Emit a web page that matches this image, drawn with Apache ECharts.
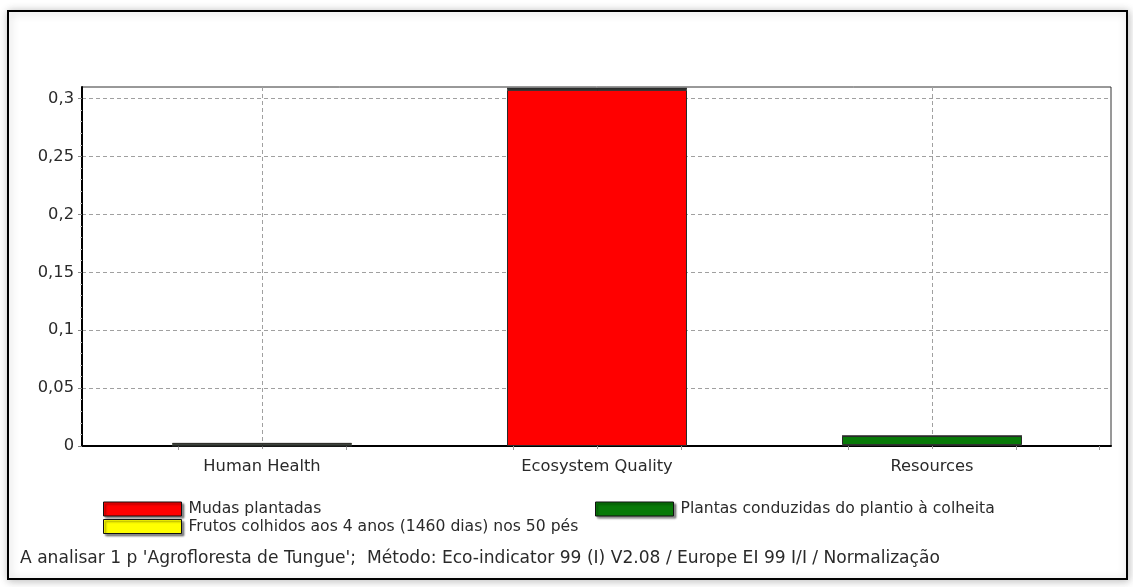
<!DOCTYPE html>
<html>
<head>
<meta charset="utf-8">
<script src="https://cdn.jsdelivr.net/npm/echarts@6/dist/echarts.min.js"></script>
<style>
  html, body { margin: 0; padding: 0; background: #ffffff; }
  #chart { width: 1133px; height: 587px; }
</style>
</head>
<body>
<div id="chart"></div>
<script>
// Impact categories and normalised scores per process
const categories = ['Human Health', 'Ecosystem Quality', 'Resources'];
const mudasPlantadas = [0.0002, 0.3075, 0.0008];
const plantasConduzidas = [0.0013, 0.0012, 0.0078];
const frutosColhidos = [0.0012, 0.0002, 0.0001];
const yTicks = [0, 0.05, 0.1, 0.15, 0.2, 0.25, 0.3];
const seriesNames = [
  'Mudas plantadas',
  'Plantas conduzidas do plantio à colheita',
  'Frutos colhidos aos 4 anos (1460 dias) nos 50 pés'
];
const footer = "A analisar 1 p 'Agrofloresta de Tungue';  Método: Eco-indicator 99 (I) V2.08 / Europe EI 99 I/I / Normalização";

const FONT = 'DejaVu Sans';
const TEXT = '#2a2a2a';
const Y_MAX = 0.31;
const PLOT = { left: 82, top: 87, right: 1111, bottom: 446 };
const catWidth = 335;
const catLeft = 262 - catWidth / 2;

const chart = echarts.init(document.getElementById('chart'), null, { renderer: 'canvas' });

const dash = { color: '#a0a0a0', width: 1, type: [4, 3] };
const barStyle = (color) => ({ color, borderColor: '#2a2a2a', borderWidth: 1 });

const legendBase = {
  icon: 'rect',
  itemWidth: 78,
  itemHeight: 14,
  itemGap: 0,
  padding: 0,
  selectedMode: false,
  textStyle: { fontFamily: FONT, fontSize: 15.6, color: TEXT, padding: [0, 0, 0, 2] },
  itemStyle: { borderColor: '#111', borderWidth: 1, shadowColor: 'rgba(0,0,0,0.45)', shadowOffsetX: 2, shadowOffsetY: 2, shadowBlur: 2 }
};

chart.setOption({
  backgroundColor: '#ffffff',
  animation: false,
  textStyle: { fontFamily: FONT },
  graphic: [{
    type: 'rect',
    shape: { x: 8, y: 11, width: 1119, height: 568 },
    style: { fill: '#ffffff', stroke: '#000', lineWidth: 2, shadowBlur: 8, shadowColor: 'rgba(0,0,0,0.25)', shadowOffsetX: 1, shadowOffsetY: 1 },
    z: -10
  }],
  title: {
    text: footer,
    left: 20,
    top: 550,
    padding: 0,
    textStyle: { fontFamily: FONT, fontSize: 17.1, fontWeight: 'normal', color: TEXT }
  },
  legend: [
    Object.assign({}, legendBase, { data: [seriesNames[0]], left: 103, top: 501 }),
    Object.assign({}, legendBase, { data: [seriesNames[1]], left: 595, top: 501 }),
    Object.assign({}, legendBase, { data: [seriesNames[2]], left: 103, top: 518.5 })
  ],
  grid: [
    // frame of the plot with the value scale
    { left: PLOT.left, top: PLOT.top, width: PLOT.right - PLOT.left, height: PLOT.bottom - PLOT.top,
      show: true, borderColor: '#333', borderWidth: 1, backgroundColor: 'transparent' },
    // inner band holding the stacked bars
    { left: catLeft, top: PLOT.top, width: catWidth * categories.length, height: PLOT.bottom - PLOT.top }
  ],
  xAxis: [
    { gridIndex: 0, type: 'value', min: 0, max: 1, show: true, position: 'bottom',
      axisLine: { show: true, lineStyle: { color: '#000', width: 2 } },
      axisTick: { show: false }, axisLabel: { show: false }, splitLine: { show: false } },
    { gridIndex: 1, type: 'category', data: categories, position: 'bottom',
      axisLine: { show: false },
      axisTick: { show: true, alignWithLabel: true, length: 5, lineStyle: { color: '#9a9a9a', type: [3, 2] } },
      axisLabel: { fontFamily: FONT, fontSize: 16.3, color: TEXT, margin: 13 },
      splitLine: { show: true, alignWithLabel: true, lineStyle: dash } },
    { gridIndex: 1, type: 'value', min: 0, max: categories.length, position: 'bottom',
      axisLine: { show: false, onZero: false },
      axisTick: { show: true, length: 4, customValues: [0.25, 0.75, 1.25, 1.75, 2.25, 2.75, 3], lineStyle: { color: '#999' } },
      axisLabel: { show: false }, splitLine: { show: false } }
  ],
  yAxis: [
    { gridIndex: 0, type: 'value', min: 0, max: Y_MAX, interval: 0.05,
      axisLine: { show: true, lineStyle: { color: '#000', width: 2 } },
      axisTick: { show: true, length: 4, customValues: yTicks, lineStyle: { color: '#888' } },
      minorTick: { show: true, splitNumber: 5, length: 2, lineStyle: { color: '#c4c4c4' } },
      axisLabel: { customValues: yTicks, fontFamily: FONT, fontSize: 16.3, color: TEXT, margin: 8,
        formatter: (v) => String(v).replace('.', ',') },
      splitLine: { show: true, lineStyle: dash } },
    { gridIndex: 1, type: 'value', min: 0, max: Y_MAX, show: false, splitLine: { show: false } }
  ],
  series: [
    { name: seriesNames[0], type: 'bar', stack: 'total', xAxisIndex: 1, yAxisIndex: 1,
      barWidth: 180, data: mudasPlantadas, itemStyle: barStyle('#ff0000') },
    { name: seriesNames[1], type: 'bar', stack: 'total', xAxisIndex: 1, yAxisIndex: 1,
      barWidth: 180, data: plantasConduzidas, itemStyle: barStyle('#087a08') },
    { name: seriesNames[2], type: 'bar', stack: 'total', xAxisIndex: 1, yAxisIndex: 1,
      barWidth: 180, data: frutosColhidos, itemStyle: barStyle('#ffff00') }
  ]
});
</script>
</body>
</html>
